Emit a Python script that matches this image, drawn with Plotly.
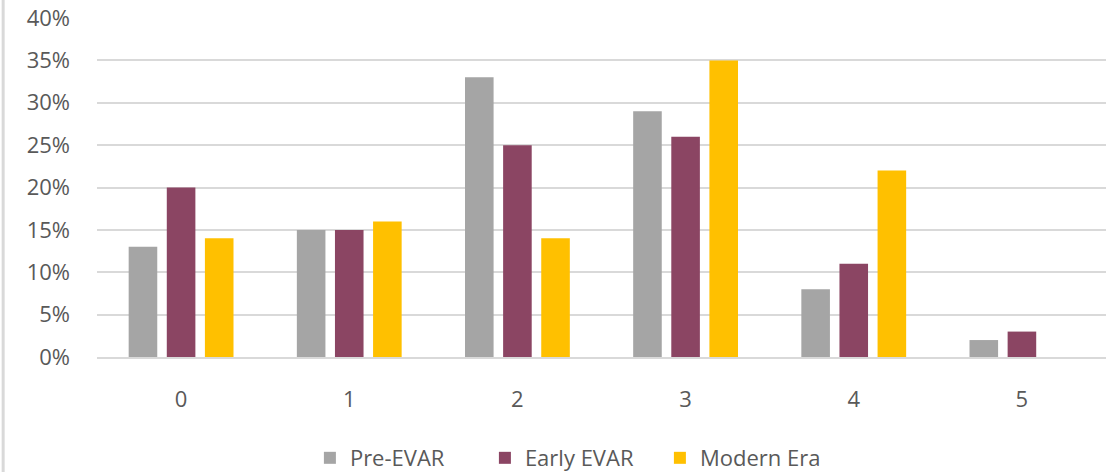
import plotly.graph_objects as go

categories = ["0", "1", "2", "3", "4", "5"]
pre_evar = [13, 15, 33, 29, 8, 2]
early_evar = [20, 15, 25, 26, 11, 3]
modern_era = [14, 16, 14, 35, 22, 0]

series = [
    ("Pre-EVAR", pre_evar, "#A5A5A5"),
    ("Early EVAR", early_evar, "#8B4563"),
    ("Modern Era", modern_era, "#FFC000"),
]

fig = go.Figure()
for name, vals, color in series:
    fig.add_trace(go.Bar(
        x=categories,
        y=[v / 100 for v in vals],
        name=name,
        marker=dict(color=color, line=dict(width=0)),
    ))

font_family = "Open Sans, DejaVu Sans, sans-serif"
tick_color = "#595959"
font_size = 22

fig.update_layout(
    width=1120,
    height=472,
    margin=dict(l=97, r=14, t=18, b=115, autoexpand=False),
    paper_bgcolor="white",
    plot_bgcolor="white",
    barmode="group",
    bargap=0.32,
    bargroupgap=0.25,
    font=dict(family=font_family, size=font_size, color=tick_color),
    legend=dict(
        orientation="h",
        x=0.211,
        xanchor="left",
        y=-0.298,
        yanchor="middle",
        font=dict(size=font_size, color=tick_color),
        itemwidth=30,
        entrywidth=130,
        traceorder="normal",
    ),
    xaxis=dict(
        type="category",
        showgrid=False,
        showline=True,
        linecolor="#D9D9D9",
        linewidth=2,
        ticks="",
        tickfont=dict(size=font_size, color=tick_color),
        ticklabelstandoff=22,
    ),
    yaxis=dict(
        range=[0, 0.4],
        dtick=0.05,
        tickformat=".0%",
        showgrid=True,
        gridcolor="#D9D9D9",
        gridwidth=2,
        zeroline=False,
        showline=False,
        ticks="",
        tickfont=dict(size=font_size, color=tick_color),
        ticklabelstandoff=26,
    ),
    shapes=[
        dict(
            type="line",
            xref="paper",
            yref="paper",
            x0=-0.093,
            x1=-0.093,
            y0=-0.35,
            y1=1.06,
            line=dict(color="#D9D9D9", width=3),
        )
    ],
)

fig.write_html("out.html")
